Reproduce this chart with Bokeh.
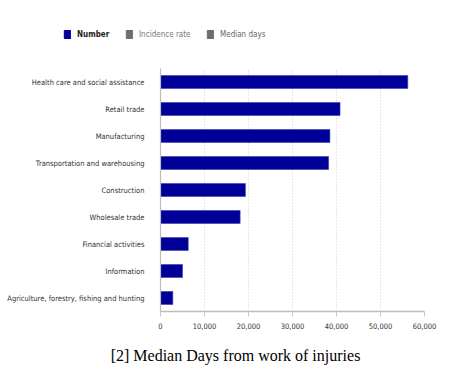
import numpy as np
from bokeh.plotting import figure
from bokeh.models import (ColumnDataSource, FactorRange, Range1d, NumeralTickFormatter,
                          Legend, LegendItem, Label, FixedTicker)
from bokeh.layouts import column
from bokeh.embed import file_html
from bokeh.resources import INLINE

industries = [
    "Health care and social assistance",
    "Retail trade",
    "Manufacturing",
    "Transportation and warehousing",
    "Construction",
    "Wholesale trade",
    "Financial activities",
    "Information",
    "Agriculture, forestry, fishing and hunting",
]
number = [56200, 40800, 38500, 38200, 19300, 18100, 6300, 5000, 2800]
x_ticks = [0, 10000, 20000, 30000, 40000, 50000, 60000]
series_names = ["Number", "Incidence rate", "Median days"]
series_colors = ["#000099", "#6e6e6e", "#6e6e6e"]
caption = "[2] Median Days from work of injuries"

FONT = "'DejaVu Sans Condensed', 'Liberation Sans Narrow', Lato, sans-serif"
W = 469

# ---- legend strip ----
leg = figure(width=W, height=68, output_backend="svg", toolbar_location=None,
             x_range=Range1d(0, 1), y_range=Range1d(0, 1),
             x_axis_location=None, y_axis_location=None, frame_align=False,
             min_border_left=0, min_border_right=0, min_border_top=0, min_border_bottom=0)
leg.outline_line_color = None
leg.grid.grid_line_color = None
xs = [63, 125, 206]
label_colors = ["#222222", "#777777", "#666666"]
styles = ["bold", "normal", "normal"]
for name, col, xo, lc, st in zip(series_names, series_colors, xs, label_colors, styles):
    r = leg.quad(left=[np.nan], right=[np.nan], top=[np.nan], bottom=[np.nan],
                 fill_color=col, line_color=col)
    lg = Legend(items=[LegendItem(label=name, renderers=[r])],
                location=(xo, 29), orientation="horizontal",
                border_line_color=None, background_fill_alpha=0,
                padding=0, margin=0, glyph_width=8, glyph_height=10,
                label_standoff=6, label_text_font=FONT, label_text_font_size="8px",
                label_text_color=lc, label_text_font_style=st, label_height=10)
    leg.add_layout(lg, "center")

# ---- main chart ----
p = figure(width=W, height=270, output_backend="svg", toolbar_location=None,
           y_range=FactorRange(factors=list(reversed(industries)), range_padding=0),
           x_range=Range1d(0, 60000), frame_align=False,
           min_border_left=160, min_border_right=45, min_border_top=0, min_border_bottom=27)

src = ColumnDataSource(dict(y=industries, x=number))
p.hbar(y="y", right="x", left=0, height=0.48, source=src,
       fill_color=series_colors[0], line_color="#3a3ab0", line_width=0.6)

p.outline_line_color = None
p.ygrid.grid_line_color = None
p.xgrid.grid_line_color = "#cfcfcf"
p.xgrid.grid_line_dash = "1 2"
p.xgrid.ticker = FixedTicker(ticks=x_ticks)

p.xaxis.ticker = FixedTicker(ticks=x_ticks)
p.xaxis.formatter = NumeralTickFormatter(format="0,0")
p.xaxis.axis_line_color = "#bdbdbd"
p.xaxis.axis_line_width = 1.5
p.xaxis.major_tick_line_color = "#b8cce4"
p.xaxis.major_tick_in = 0
p.xaxis.major_tick_out = 5
p.xaxis.minor_tick_line_color = None
p.xaxis.major_label_text_font = FONT
p.xaxis.major_label_text_font_size = "7.5px"
p.xaxis.major_label_text_color = "#333333"
p.xaxis.major_label_standoff = 6

p.yaxis.axis_line_color = "#bdbdbd"
p.yaxis.axis_line_width = 1.2
p.yaxis.major_tick_line_color = None
p.yaxis.minor_tick_line_color = None
p.yaxis.major_label_text_font = FONT
p.yaxis.major_label_text_font_size = "7.5px"
p.yaxis.major_label_text_color = "#333333"
p.yaxis.major_label_standoff = 10

# ---- caption strip ----
cap = figure(width=W, height=38, output_backend="svg", toolbar_location=None,
             x_range=Range1d(0, 1), y_range=Range1d(0, 1),
             x_axis_location=None, y_axis_location=None, frame_align=False,
             min_border_left=0, min_border_right=0, min_border_top=0, min_border_bottom=0)
cap.outline_line_color = None
cap.grid.grid_line_color = None
cap.add_layout(Label(x=235, y=21, x_units="screen", y_units="screen", text=caption,
                     text_align="center", text_baseline="middle",
                     text_font="Liberation Serif", text_font_size="16px", text_color="#000000"))

layout = column(leg, p, cap, spacing=0)
open("out.html", "w").write(file_html(layout, INLINE))
